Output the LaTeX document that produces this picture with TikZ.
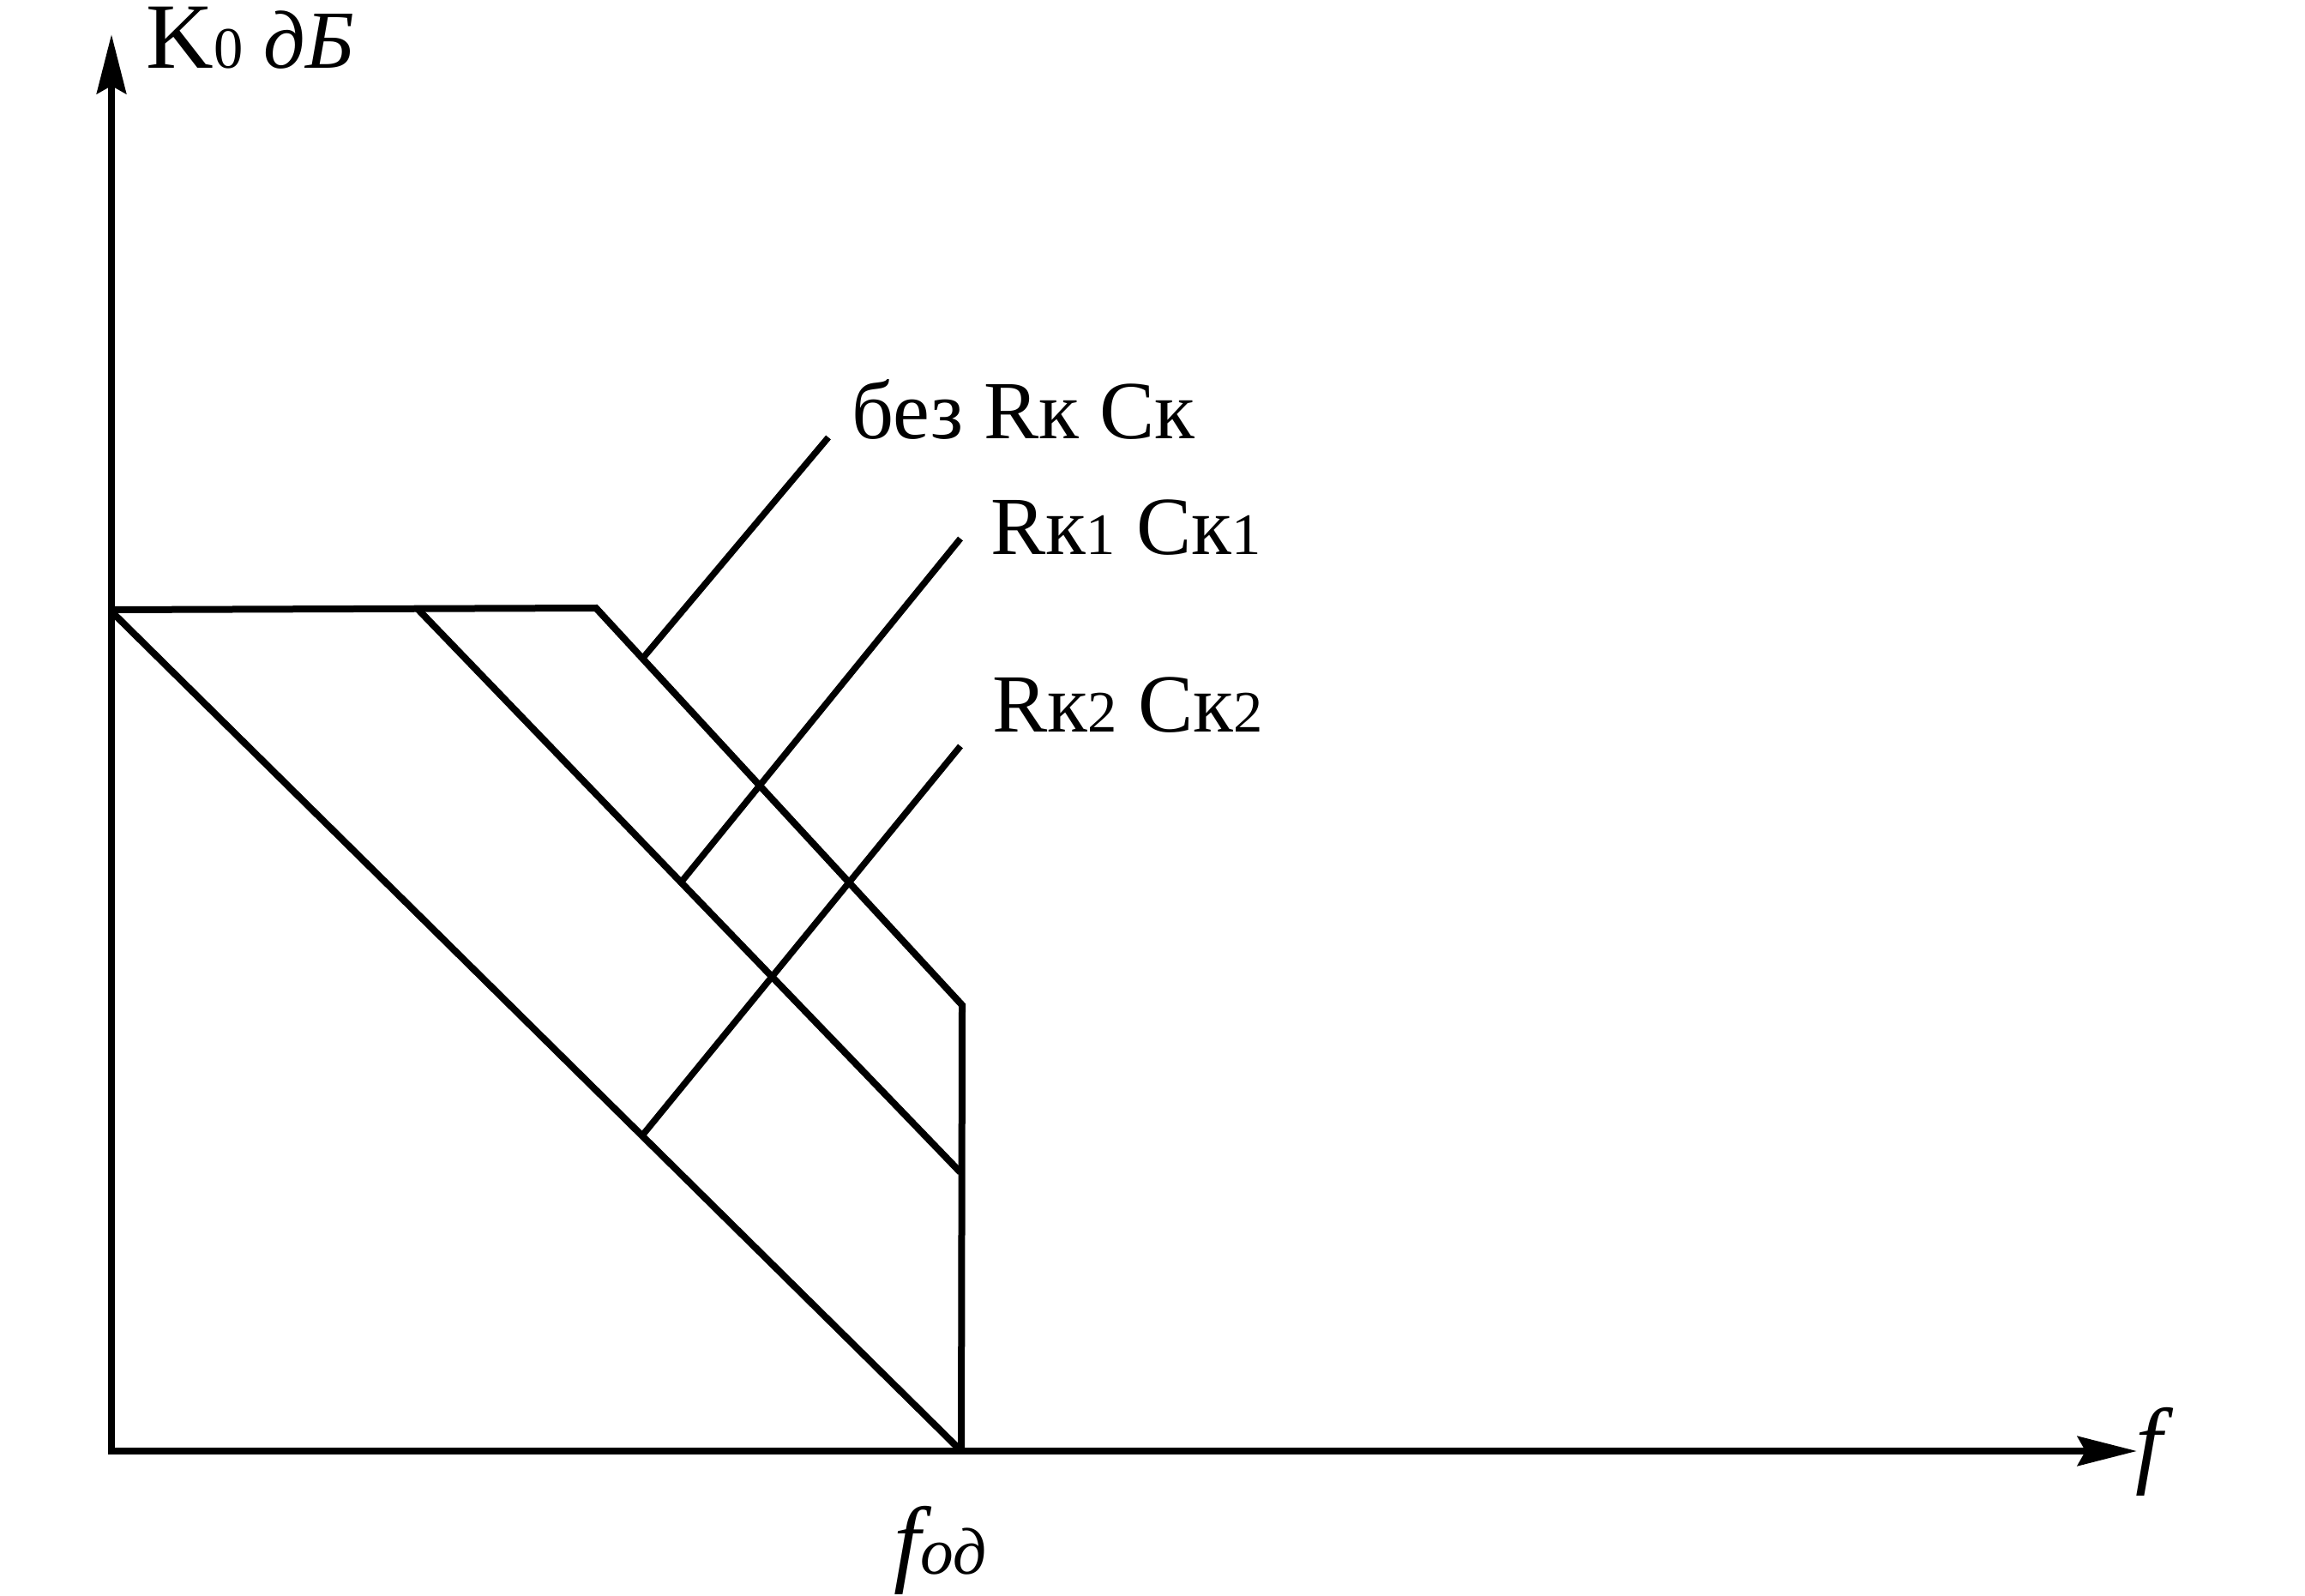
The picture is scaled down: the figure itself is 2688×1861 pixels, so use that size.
\documentclass[tikz,border=0pt]{standalone}
\usepackage{fontspec}
\setmainfont{Liberation Serif}
\usetikzlibrary{arrows.meta}
\newcommand\subsz[1]{{\fontsize{19.5pt}{20pt}\selectfont #1}}
\newcommand\subod[1]{{\fontsize{22pt}{22pt}\selectfont #1}}
\begin{document}
\begin{tikzpicture}[x=0.1mm,y=-0.1mm,
  curve/.style={line width=0.8mm, line join=miter},
  leader/.style={line width=0.75mm},
  axis/.style={line width=0.85mm, line join=miter,
    {Stealth[length=6.9mm,width=3.4mm,inset=0.9mm]}-{Stealth[length=6.9mm,width=3.4mm,inset=0.9mm]}},
  lbl/.style={anchor=base west, inner sep=0pt, font=\fontsize{27.4pt}{30pt}\selectfont},
]
\useasboundingbox (0,0) rectangle (2688,1861);
% axes
\coordinate (O) at (130,1692);
\coordinate (Ytip) at (130,40);
\coordinate (Xtip) at (2492,1692);
\draw[axis] (Ytip) -- (O) -- (Xtip);
% curve without Rk Ck
\coordinate (A0) at (130,711);
\coordinate (B0) at (695,709);
\coordinate (C0) at (1122,1172);
\coordinate (D0) at (1121,1692);
\draw[curve] (A0) -- (B0) -- (C0) -- (D0);
% curve Rk1 Ck1
\coordinate (A1) at (487,710);
\coordinate (B1) at (1120,1367);
\draw[curve] (A1) -- (B1);
% curve Rk2 Ck2
\coordinate (A2) at (130,713);
\coordinate (B2) at (1121,1692);
\draw[curve] (A2) -- (B2);
% leaders
\coordinate (L0a) at (750,767);
\coordinate (L0b) at (966,510);
\coordinate (L1a) at (794,1029);
\coordinate (L1b) at (1120,628);
\coordinate (L2a) at (749,1324);
\coordinate (L2b) at (1120,870);
\draw[leader] (L0a) -- (L0b);
\draw[leader] (L1a) -- (L1b);
\draw[leader] (L2a) -- (L2b);
% labels
\node[lbl] (t0) at (993,512) {без Rк Cк};
\node[lbl] (t1) at (1155,647) {Rк\subsz{1} Cк\subsz{1}};
\node[lbl] (t2) at (1157,854) {Rк\subsz{2} Cк\subsz{2}};
\node[lbl] (ylab) at (170,80) {{\fontsize{31pt}{31pt}\selectfont K}\subsz{0} \textit{дБ}};
\node[lbl, font=\fontsize{32pt}{32pt}\selectfont\itshape] (xlab) at (2490,1720) {f};
\node[lbl, font=\fontsize{32pt}{32pt}\selectfont\itshape] (flab) at (1042,1835) {f\subod{од}};
\end{tikzpicture}
\end{document}
